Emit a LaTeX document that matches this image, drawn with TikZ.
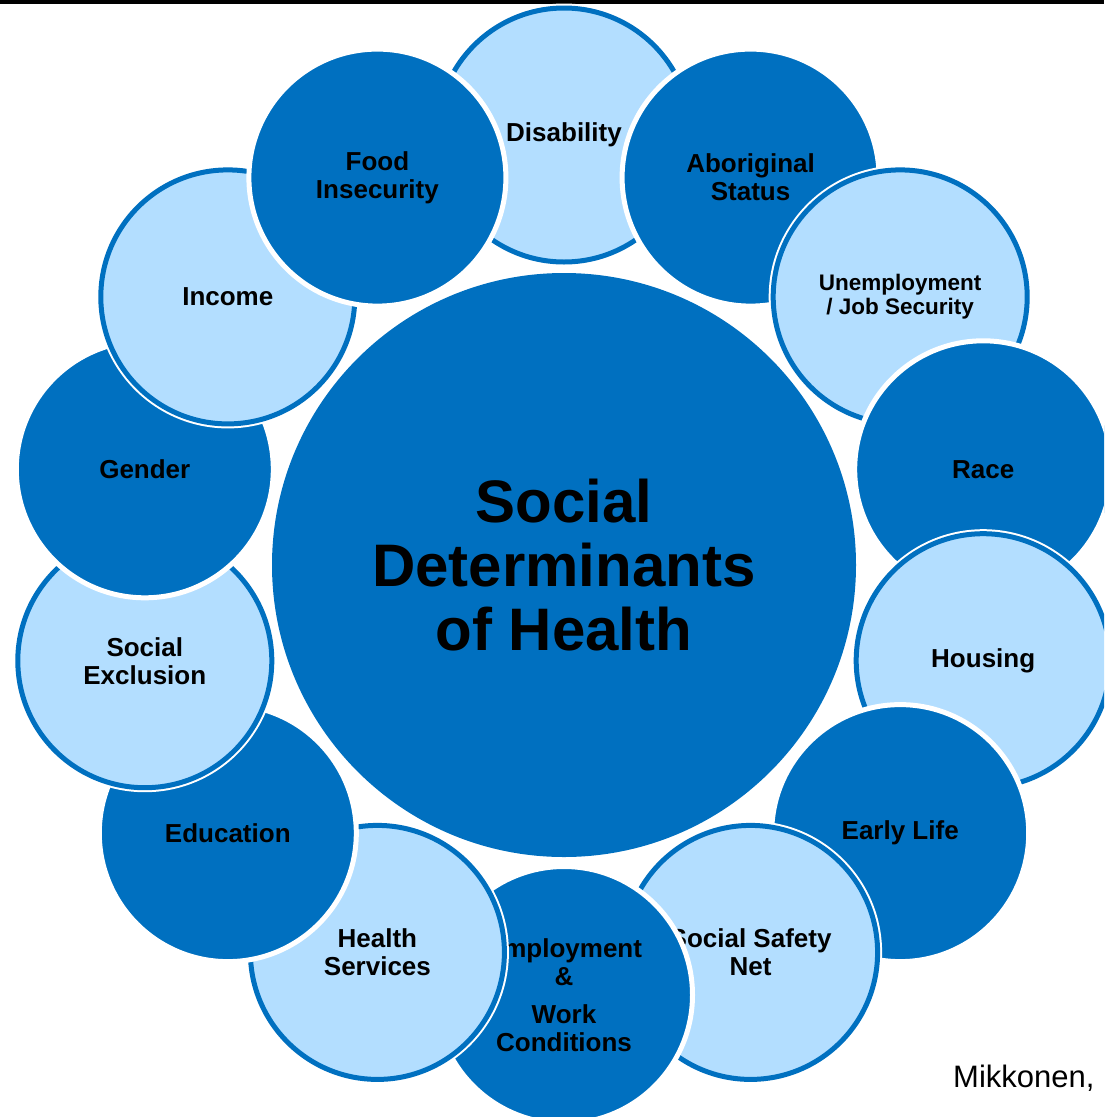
\documentclass[tikz,border=0pt]{standalone}
\usepackage{fontspec}
\setmainfont{Liberation Sans}
\definecolor{dkblue}{HTML}{0070C0}
\definecolor{ltblue}{HTML}{B3DEFF}
\begin{document}
\begin{tikzpicture}[x=1pt,y=-1pt,
  base/.style={circle,inner sep=0pt,align=center,text=black,
    font=\fontsize{26}{28}\selectfont\bfseries},
  darkc/.style={base,minimum size=257pt,fill=dkblue,draw=white,line width=5pt},
  lightc/.style={base,minimum size=254pt,fill=ltblue,draw=dkblue,line width=5pt,
    preaction={draw=white,line width=9pt}},
  centre/.style={circle,inner sep=0pt,align=center,text=black,fill=dkblue,
    minimum size=584pt,font=\fontsize{60}{64}\selectfont\bfseries},
  cite/.style={anchor=base west,inner sep=0pt,text=black,font=\fontsize{31}{36}\selectfont}
]
\useasboundingbox (0,0) rectangle (1104,1117);
\clip (0,0) rectangle (1104,1117);
\fill[black] (0,0) rectangle (1104,4);
\node[centre] (sdh) at (564,565) {Social\\Determinants\\of Health};
\node[lightc] (dis) at (564,135) {Disability};
\node[darkc] (abo) at (750.6,177.6) {Aboriginal\\Status};
\node[lightc,font=\fontsize{22.5}{24}\selectfont\bfseries] (une) at (900.2,296.9) {Unemployment\\/ Job Security};
\node[darkc] (rac) at (983.2,469.3) {Race};
\node[lightc] (hou) at (983.2,660.7) {Housing};
\node[darkc] (ear) at (900.2,833.1) {Early Life};
\node[lightc] (ssn) at (750.6,952.4) {Social Safety\\Net};
\node[darkc] (emp) at (564,995) {Employment\\\&\\[10pt]Work\\Conditions};
\node[lightc] (hea) at (377.4,952.4) {Health\\Services};
\node[darkc] (edu) at (227.8,833.1) {Education};
\node[lightc] (sex) at (144.8,660.7) {Social\\Exclusion};
\node[darkc] (gen) at (144.8,469.3) {Gender};
\node[lightc] (inc) at (227.8,296.9) {Income};
\node[darkc] (foo) at (377.4,177.6) {Food\\Insecurity};
\node[cite] (mik) at (953,1087) {Mikkonen,};
\end{tikzpicture}
\end{document}
